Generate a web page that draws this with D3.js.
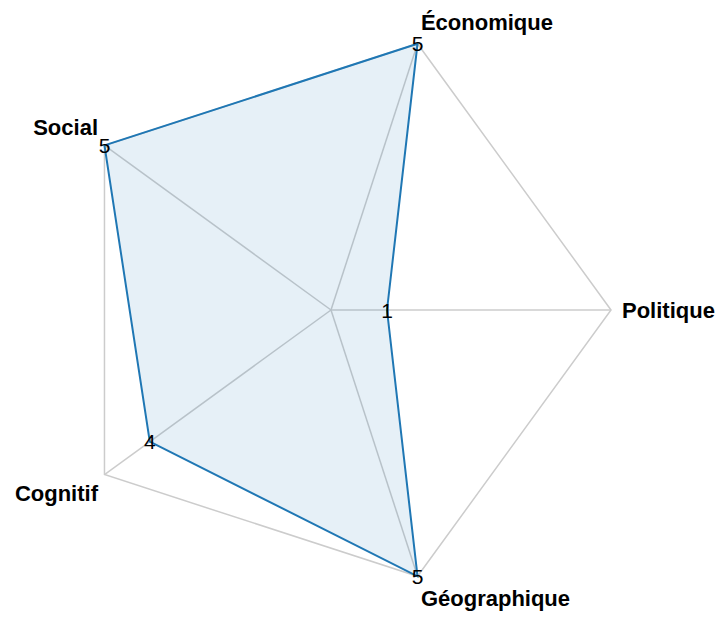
<!DOCTYPE html>
<html>
<head>
<meta charset="utf-8">
<script src="https://cdn.jsdelivr.net/npm/d3@7"></script>
<style>
  body { margin: 0; background: #fff; }
  svg { display: block; font-family: "Liberation Sans", Arial, sans-serif; }
</style>
</head>
<body>
<script>
// chart size
const w = 720;
const h = 617;
const cx = 331;
const cy = 310;
const radius = 280;

// data
const categories = ["Politique", "Économique", "Social", "Cognitif", "Géographique"];
const values = [1, 5, 5, 4, 5];
const maxValue = 5;

const rScale = d3.scaleLinear().domain([0, maxValue]).range([0, radius]);
const angleScale = d3
  .scaleLinear()
  .domain([0, categories.length])
  .range([0, -2 * Math.PI]);

const pointAt = (i, v) => {
  const a = angleScale(i);
  return [cx + Math.cos(a) * rScale(v), cy + Math.sin(a) * rScale(v)];
};

const svg = d3
  .select("body")
  .append("svg")
  .attr("width", w)
  .attr("height", h);

// outer grid pentagon
const line = d3.line();
svg
  .append("path")
  .attr("d", line(categories.map((c, i) => pointAt(i, maxValue))) + "Z")
  .attr("fill", "none")
  .attr("stroke", "#cccccc")
  .attr("stroke-width", 1.5);

// spokes
svg
  .selectAll(".spoke")
  .data(categories)
  .enter()
  .append("line")
  .attr("class", "spoke")
  .attr("x1", cx)
  .attr("y1", cy)
  .attr("x2", (d, i) => pointAt(i, maxValue)[0])
  .attr("y2", (d, i) => pointAt(i, maxValue)[1])
  .attr("stroke", "#cccccc")
  .attr("stroke-width", 1.5);

// data polygon
const pts = values.map((v, i) => pointAt(i, v));
svg
  .append("path")
  .attr("d", line(pts) + "Z")
  .attr("fill", "rgba(31,119,180,0.11)")
  .attr("stroke", "#1f77b4")
  .attr("stroke-width", 2)
  .attr("stroke-linejoin", "miter");

// value labels
svg
  .selectAll(".val")
  .data(values)
  .enter()
  .append("text")
  .attr("class", "val")
  .attr("x", (d, i) => pts[i][0])
  .attr("y", (d, i) => pts[i][1])
  .attr("text-anchor", "middle")
  .attr("dominant-baseline", "central")
  .attr("font-size", "21px")
  .attr("fill", "#000")
  .text((d) => d);

// axis labels
svg
  .selectAll(".axis-label")
  .data(categories)
  .enter()
  .append("text")
  .attr("class", "axis-label")
  .attr("x", (d, i) => {
    const c = Math.cos(angleScale(i));
    return pointAt(i, maxValue)[0] + c * (c > 0 ? 11 : 8);
  })
  .attr("y", (d, i) => {
    const a = angleScale(i);
    const p = pointAt(i, maxValue);
    const s = Math.sin(a);
    if (Math.abs(s) < 0.1) return p[1];
    return s < 0 ? p[1] - 6 - 8 * Math.abs(s) : p[1] + 6 + 8 * Math.abs(s);
  })
  .attr("dy", (d, i) => {
    const s = Math.sin(angleScale(i));
    if (Math.abs(s) < 0.1) return "0.35em";
    return s < 0 ? "0" : "0.72em";
  })
  .attr("text-anchor", (d, i) => {
    const c = Math.cos(angleScale(i));
    return c > 0.1 ? "start" : c < -0.1 ? "end" : "middle";
  })
  .attr("font-size", "22px")
  .attr("font-weight", "bold")
  .attr("fill", "#000")
  .text((d) => d);
</script>
</body>
</html>
